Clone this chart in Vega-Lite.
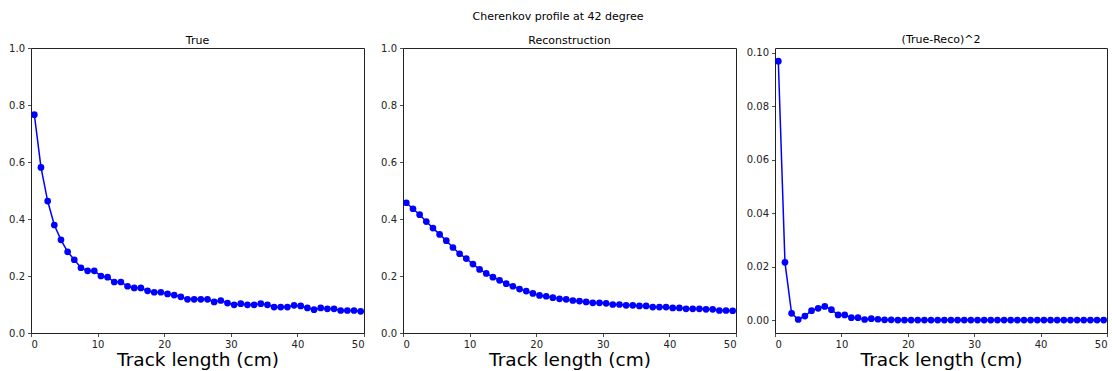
{
  "$schema": "https://vega.github.io/schema/vega-lite/v6.json",
  "background": "white",
  "padding": {"left": 8, "top": 11, "right": 5, "bottom": 0},
  "title": {"text": "Cherenkov profile at 42 degree", "font": "DejaVu Sans", "fontSize": 11, "fontWeight": "normal", "color": "black", "anchor": "middle", "offset": 11},
  "data": {"values": [
    {"x": 0.5, "t": 0.766, "r": 0.457, "d": 0.0969},
    {"x": 1.5, "t": 0.581, "r": 0.436, "d": 0.0216},
    {"x": 2.5, "t": 0.463, "r": 0.415, "d": 0.0025},
    {"x": 3.5, "t": 0.379, "r": 0.391, "d": 0.0002},
    {"x": 4.5, "t": 0.327, "r": 0.368, "d": 0.0015},
    {"x": 5.5, "t": 0.285, "r": 0.346, "d": 0.0035},
    {"x": 6.5, "t": 0.257, "r": 0.324, "d": 0.0044},
    {"x": 7.5, "t": 0.229, "r": 0.300, "d": 0.0051},
    {"x": 8.5, "t": 0.218, "r": 0.278, "d": 0.0039},
    {"x": 9.5, "t": 0.218, "r": 0.261, "d": 0.0019},
    {"x": 10.5, "t": 0.200, "r": 0.242, "d": 0.0019},
    {"x": 11.5, "t": 0.196, "r": 0.223, "d": 0.0009},
    {"x": 12.5, "t": 0.179, "r": 0.209, "d": 0.0009},
    {"x": 13.5, "t": 0.179, "r": 0.196, "d": 0.0002},
    {"x": 14.5, "t": 0.164, "r": 0.185, "d": 0.0005},
    {"x": 15.5, "t": 0.158, "r": 0.173, "d": 0.0003},
    {"x": 16.5, "t": 0.158, "r": 0.164, "d": 0.0001},
    {"x": 17.5, "t": 0.148, "r": 0.154, "d": 0.0001},
    {"x": 18.5, "t": 0.143, "r": 0.147, "d": 0.0},
    {"x": 19.5, "t": 0.143, "r": 0.139, "d": 0.0},
    {"x": 20.5, "t": 0.137, "r": 0.132, "d": 0.0},
    {"x": 21.5, "t": 0.133, "r": 0.129, "d": 0.0},
    {"x": 22.5, "t": 0.127, "r": 0.124, "d": 0.0},
    {"x": 23.5, "t": 0.118, "r": 0.120, "d": 0.0},
    {"x": 24.5, "t": 0.118, "r": 0.118, "d": 0.0},
    {"x": 25.5, "t": 0.118, "r": 0.114, "d": 0.0},
    {"x": 26.5, "t": 0.118, "r": 0.112, "d": 0.0},
    {"x": 27.5, "t": 0.109, "r": 0.109, "d": 0.0},
    {"x": 28.5, "t": 0.114, "r": 0.106, "d": 0.0},
    {"x": 29.5, "t": 0.105, "r": 0.106, "d": 0.0},
    {"x": 30.5, "t": 0.099, "r": 0.104, "d": 0.0},
    {"x": 31.5, "t": 0.103, "r": 0.100, "d": 0.0},
    {"x": 32.5, "t": 0.099, "r": 0.100, "d": 0.0},
    {"x": 33.5, "t": 0.099, "r": 0.097, "d": 0.0},
    {"x": 34.5, "t": 0.103, "r": 0.097, "d": 0.0},
    {"x": 35.5, "t": 0.099, "r": 0.095, "d": 0.0},
    {"x": 36.5, "t": 0.091, "r": 0.095, "d": 0.0},
    {"x": 37.5, "t": 0.091, "r": 0.091, "d": 0.0},
    {"x": 38.5, "t": 0.091, "r": 0.091, "d": 0.0},
    {"x": 39.5, "t": 0.097, "r": 0.091, "d": 0.0},
    {"x": 40.5, "t": 0.095, "r": 0.088, "d": 0.0},
    {"x": 41.5, "t": 0.088, "r": 0.088, "d": 0.0},
    {"x": 42.5, "t": 0.082, "r": 0.085, "d": 0.0},
    {"x": 43.5, "t": 0.088, "r": 0.085, "d": 0.0},
    {"x": 44.5, "t": 0.085, "r": 0.085, "d": 0.0},
    {"x": 45.5, "t": 0.085, "r": 0.083, "d": 0.0},
    {"x": 46.5, "t": 0.079, "r": 0.083, "d": 0.0},
    {"x": 47.5, "t": 0.079, "r": 0.079, "d": 0.0},
    {"x": 48.5, "t": 0.079, "r": 0.079, "d": 0.0},
    {"x": 49.5, "t": 0.076, "r": 0.078, "d": 0.0}
  ]},
  "bounds": "flush",
  "spacing": 39,
  "hconcat": [
    {
      "width": 333, "height": 285,
      "title": {"text": "True"},
      "mark": {"type": "line", "color": "#0000ff", "strokeWidth": 1.5, "point": {"filled": true, "size": 45, "color": "#0000ff", "opacity": 1}},
      "encoding": {
        "x": {"field": "x", "type": "quantitative", "scale": {"domain": [0, 50], "nice": false, "zero": false}, "axis": {"values": [0, 10, 20, 30, 40, 50], "title": "Track length (cm)"}},
        "y": {"field": "t", "type": "quantitative", "scale": {"domain": [0, 1], "nice": false}, "axis": {"values": [0, 0.2, 0.4, 0.6, 0.8, 1.0], "format": ".1f", "title": null}}
      }
    },
    {
      "width": 333, "height": 285,
      "title": {"text": "Reconstruction"},
      "mark": {"type": "line", "color": "#0000ff", "strokeWidth": 1.5, "point": {"filled": true, "size": 45, "color": "#0000ff", "opacity": 1}},
      "encoding": {
        "x": {"field": "x", "type": "quantitative", "scale": {"domain": [0, 50], "nice": false, "zero": false}, "axis": {"values": [0, 10, 20, 30, 40, 50], "title": "Track length (cm)"}},
        "y": {"field": "r", "type": "quantitative", "scale": {"domain": [0, 1], "nice": false}, "axis": {"values": [0, 0.2, 0.4, 0.6, 0.8, 1.0], "format": ".1f", "title": null}}
      }
    },
    {
      "width": 332, "height": 285,
      "title": {"text": "(True-Reco)^2", "offset": 3},
      "mark": {"type": "line", "color": "#0000ff", "strokeWidth": 1.5, "point": {"filled": true, "size": 45, "color": "#0000ff", "opacity": 1}},
      "encoding": {
        "x": {"field": "x", "type": "quantitative", "scale": {"domain": [0, 50], "nice": false, "zero": false}, "axis": {"values": [0, 10, 20, 30, 40, 50], "title": "Track length (cm)"}},
        "y": {"field": "d", "type": "quantitative", "scale": {"domain": [-0.00485, 0.10185], "nice": false, "zero": false}, "axis": {"values": [0, 0.02, 0.04, 0.06, 0.08, 0.1], "format": ".2f", "title": null}}
      }
    }
  ],
  "config": {
    "font": "DejaVu Sans",
    "view": {"stroke": "#222222", "strokeWidth": 1},
    "title": {"font": "DejaVu Sans", "fontSize": 11, "fontWeight": "normal", "color": "black", "offset": -3},
    "axis": {
      "grid": false,
      "domain": false,
      "tickColor": "#222222",
      "tickSize": 3.5,
      "tickWidth": 0.8,
      "labelFont": "DejaVu Sans",
      "labelFontSize": 10,
      "labelColor": "#222222",
      "labelPadding": 3,
      "titleFont": "DejaVu Sans",
      "titleFontSize": 18.5,
      "titleFontWeight": "normal",
      "titleColor": "black",
      "titlePadding": 1
    }
  }
}
